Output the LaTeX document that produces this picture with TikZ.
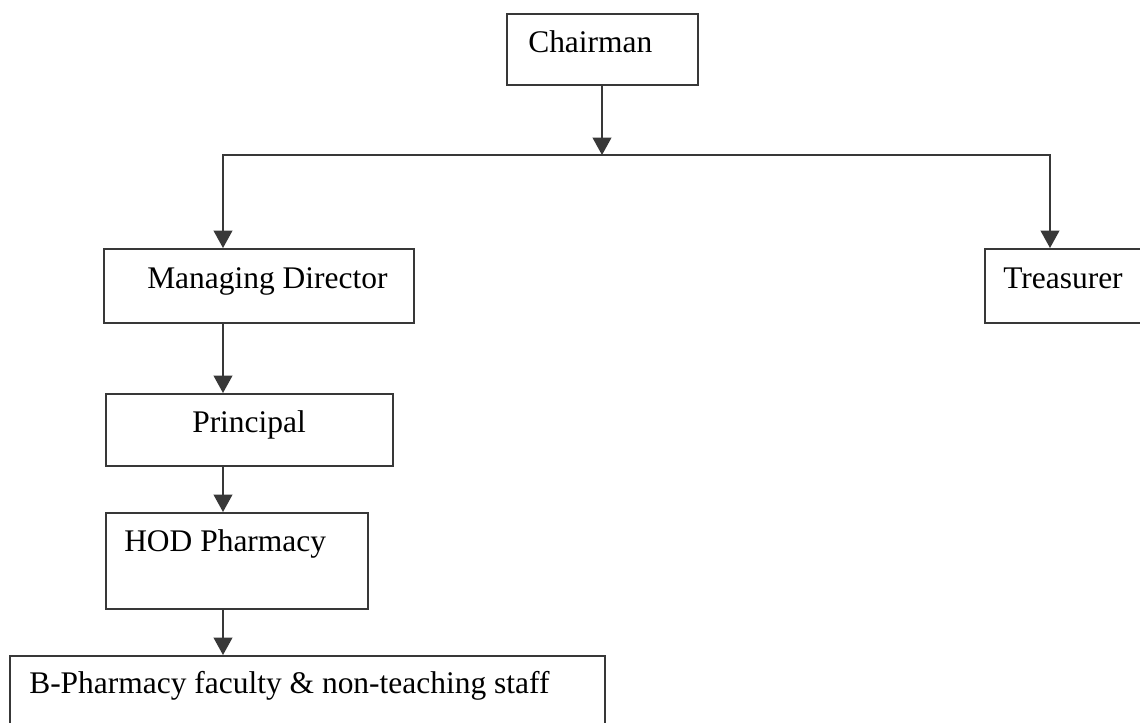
\documentclass[tikz,border=0pt]{standalone}
\usepackage{fontspec}
\setmainfont{Liberation Serif}
\usetikzlibrary{arrows.meta}
\tikzset{
    orgbox/.style = {rectangle, draw=black!78, line width=1.7pt, anchor=north west, inner sep=0pt},
    orgtext/.style = {anchor=base west, inner sep=0pt, text=black, font=\fontsize{23.6}{28}\selectfont},
    tipa/.tip = {Triangle[width=14pt,length=13pt]},
    edgea/.style = {-tipa, line width=1.3pt, black!78} % arrow down
}
\begin{document}
\begin{tikzpicture}[x=0.75pt, y=-0.75pt]
  \useasboundingbox (0,0) rectangle (1140,722);
  % boxes
  \node[orgbox, minimum width=143.25pt, minimum height=53.25pt] (chair) at (506,13) {};
  \node[orgbox, minimum width=232.5pt, minimum height=55.5pt] (md) at (103,248) {};
  \node[orgbox, minimum width=121.5pt, minimum height=55.5pt] (tres) at (984,248) {};
  \node[orgbox, minimum width=215.25pt, minimum height=54pt] (prin) at (105,393) {};
  \node[orgbox, minimum width=196.5pt, minimum height=72pt] (hod) at (105,512) {};
  \node[orgbox, minimum width=446.25pt, minimum height=60pt] (bph) at (9,655) {};
  % texts
  \node[orgtext] (chairtxt) at (528,52) {Chairman};
  \node[orgtext] (mdtxt) at (147,288) {Managing Director};
  \node[orgtext] (trestxt) at (1003,288) {Treasurer};
  \node[orgtext] (printxt) at (192,432) {Principal};
  \node[orgtext] (hodtxt) at (124,551) {HOD Pharmacy};
  \node[orgtext] (bphtxt) at (29,693) {B-Pharmacy faculty \& non-teaching staff};
  % connectors
  \coordinate (split) at (602,155);
  \coordinate (lft) at (223,155);
  \coordinate (rgt) at (1050,155);
  \draw[edgea] (split |- chair.south) -- (split);
  \draw[edgea, tipa-tipa] (lft |- md.north) -- (lft) -- (rgt) -- (rgt |- tres.north);
  \draw[edgea] (lft |- md.south) -- (lft |- prin.north);
  \draw[edgea] (lft |- prin.south) -- (lft |- hod.north);
  \draw[edgea] (lft |- hod.south) -- (lft |- bph.north);
\end{tikzpicture}
\end{document}
